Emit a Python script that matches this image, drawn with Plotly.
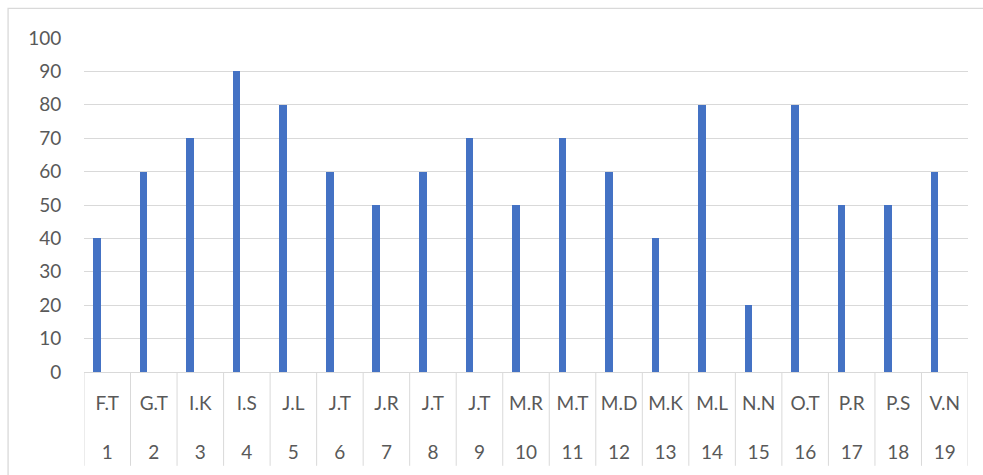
import plotly.graph_objects as go

# Student initials, their row numbers and scores
names = ["F.T", "G.T", "I.K", "I.S", "J.L", "J.T", "J.R", "J.T", "J.T", "M.R",
         "M.T", "M.D", "M.K", "M.L", "N.N", "O.T", "P.R", "P.S", "V.N"]
numbers = list(range(1, 20))
scores = [40, 60, 70, 90, 80, 60, 50, 60, 70, 50,
          70, 60, 40, 80, 20, 80, 50, 50, 60]
y_ticks = list(range(0, 101, 10))

W, H = 983, 475
ML, MR, MT, MB = 83.5, 14.5, 37.7, 103.3
plot_w = W - ML - MR
plot_h = H - MT - MB

GRID = "#d9d9d9"
TEXT = "#595959"
BAR = "#4472C4"
FONT = "Lato, Calibri, Carlito, sans-serif"

fig = go.Figure(
    go.Bar(
        x=numbers,
        y=scores,
        width=0.163,
        offset=-0.30,
        marker=dict(color=BAR, line=dict(width=0)),
        hoverinfo="x+y",
    )
)

# two-level category labels: initials above, row number below
ticktext = [f"{n}<br><br>{k}" for n, k in zip(names, numbers)]

fig.update_xaxes(
    range=[0.5, len(numbers) + 0.5],
    tickmode="array",
    tickvals=numbers,
    ticktext=ticktext,
    ticks="outside",
    ticklen=14,
    tickcolor="rgba(0,0,0,0)",
    showgrid=False,
    zeroline=False,
    showline=True,
    linecolor=GRID,
    linewidth=1,
    tickfont=dict(family=FONT, size=19, color=TEXT),
    fixedrange=True,
)
fig.update_yaxes(
    range=[0, 100],
    tickmode="array",
    tickvals=y_ticks,
    showgrid=True,
    gridcolor=GRID,
    gridwidth=1,
    zeroline=False,
    showline=False,
    ticks="outside",
    ticklen=18,
    tickcolor="rgba(0,0,0,0)",
    tickfont=dict(family=FONT, size=19, color=TEXT),
    fixedrange=True,
)

shapes = []
# vertical dividers between category cells below the axis
div_bottom = -(465.5 - (H - MB)) / plot_h
for k in range(len(numbers) + 1):
    shapes.append(dict(type="line", xref="x", yref="paper",
                       x0=k + 0.5, x1=k + 0.5, y0=0, y1=div_bottom,
                       line=dict(color=GRID, width=1)))

# chart frame
shapes.append(dict(type="rect", xref="paper", yref="paper",
                   x0=(7.5 - ML) / plot_w, x1=(W + 10 - ML) / plot_w,
                   y0=-(H + 10 - (H - MB)) / plot_h, y1=((H - MB) - 8) / plot_h,
                   line=dict(color=GRID, width=1.3), fillcolor="rgba(0,0,0,0)",
                   layer="below"))

fig.update_layout(
    width=W,
    height=H,
    margin=dict(l=ML, r=MR, t=MT, b=MB),
    paper_bgcolor="white",
    plot_bgcolor="white",
    showlegend=False,
    bargap=0,
    shapes=shapes,
    font=dict(family=FONT, color=TEXT),
)

fig.write_html("out.html", config={"displayModeBar": False})
